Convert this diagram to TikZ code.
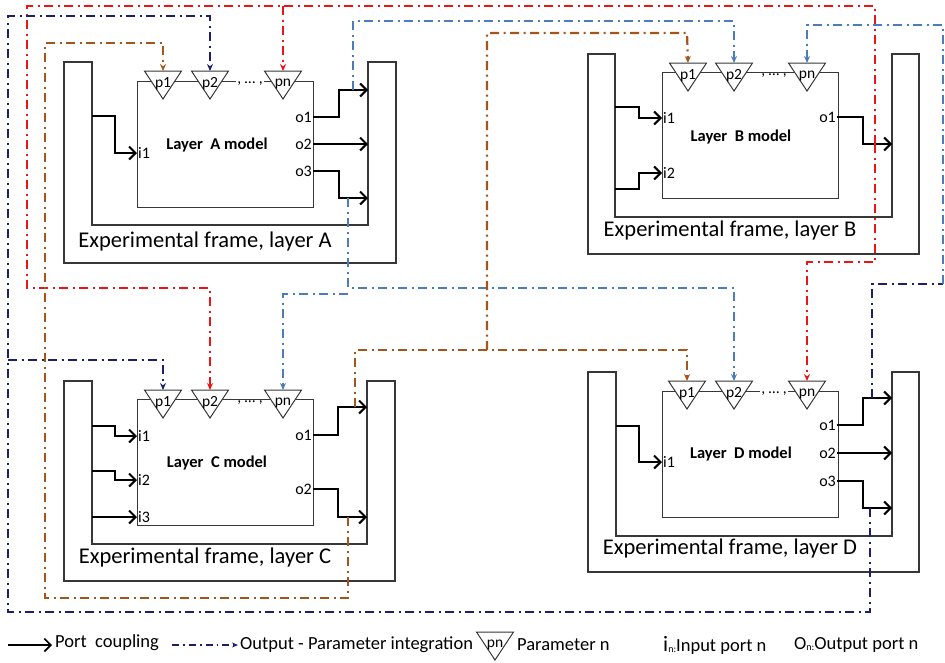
\documentclass[tikz,border=0pt]{standalone}
\usepackage{fontspec}
\setmainfont{Carlito}
\usetikzlibrary{arrows.meta,calc}
\definecolor{redc}{RGB}{238,20,20}
\definecolor{navyc}{RGB}{30,30,110}
\definecolor{lbluec}{RGB}{75,125,190}
\definecolor{brownc}{RGB}{165,85,25}
\definecolor{framec}{RGB}{55,55,55}
\newcommand\fs[1]{\fontsize{#1}{#1}\selectfont}
\begin{document}
\begin{tikzpicture}[x=1pt,y=-1pt,
 frame/.style={draw=framec,line width=1.1pt},
 modelbox/.style={draw=framec,line width=1.1pt,fill=white,minimum width=176pt,minimum height=126pt,anchor=north west,inner sep=0},
 tri/.style={draw=framec,line width=1pt,fill=white},
 plabel/.style={font={\fs{15.5}},inner sep=0},
 portl/.style={font={\fs{16}},inner sep=1pt},
 mlabel/.style={font={\fs{16.5}\bfseries}},
 flabel/.style={font={\fs{22.5}}},
 legend/.style={font={\fs{18.5}},inner sep=1pt},
 port/.style={draw=black,line width=2pt,-{Straight Barb[length=6.5pt,width=13pt]}},
 jog/.style={to path={-| ($(\tikztostart)!#1!(\tikztotarget)$) |- (\tikztotarget)}},
 dd/.style={line width=2.2pt,dash pattern=on 9pt off 4.5pt on 2pt off 4.5pt},
 tip/.style={-{Stealth[length=7pt,width=6pt]}},
 pics/ptri/.style={code={
   \filldraw[tri] (-18.5,0) -- (18.5,0) -- (0,28) -- cycle;
   \node[plabel] at (0,13) {#1};
   \coordinate (-top) at (0,0);}},
]
\useasboundingbox (0,0) rectangle (945,662);

% ---------- Layer A ----------
\begin{scope}[shift={(64,62)}]
 \draw[frame] (0,0) -- (0,201) -- (332,201) -- (332,0) -- (304,0) -- (304,163) -- (28,163) -- (28,0) -- cycle;
 \node[flabel] (A-fl) at (141,179) {Experimental frame, layer A};
 \node[modelbox] (A) at (73,19) {};
 \node[mlabel] (A-lab) at (153,83) {Layer\ \ A model};
 \pic (A-p1) at (99,9) {ptri=p1};
 \pic (A-p2) at (146,9) {ptri=p2};
 \pic (A-pn) at (219,9) {ptri=pn};
 \node[plabel,fill=white,inner sep=1pt] (A-dots) at (186,22) {, … ,};
 \coordinate (A-i1s) at (28,54);
 \node[portl,anchor=west] (A-i1) at (73,91) {i1};
 \node[portl,anchor=east] (A-o1) at (249,55) {o1};
 \node[portl,anchor=east] (A-o2) at (249,82) {o2};
 \node[portl,anchor=east] (A-o3) at (249,109) {o3};
 \coordinate (A-o1e) at (304,28);
 \coordinate (A-o2e) at (304,82);
 \coordinate (A-o3e) at (304,136);
\end{scope}

% ---------- Layer B ----------
\begin{scope}[shift={(588,54)}]
 \draw[frame] (0,0) -- (0,200) -- (331,200) -- (331,0) -- (304,0) -- (304,163) -- (27,163) -- (27,0) -- cycle;
 \node[flabel] (B-fl) at (142,176) {Experimental frame, layer B};
 \node[modelbox] (B) at (74,18) {};
 \node[mlabel] (B-lab) at (153,83) {Layer\ \ B model};
 \pic (B-p1) at (100,9) {ptri=p1};
 \pic (B-p2) at (146,9) {ptri=p2};
 \pic (B-pn) at (219,9) {ptri=pn};
 \node[plabel,fill=white,inner sep=1pt] (B-dots) at (186,22) {, … ,};
 \coordinate (B-i1s) at (27,53);
 \coordinate (B-i2s) at (27,135);
 \node[portl,anchor=west] (B-i1) at (74,64) {i1};
 \node[portl,anchor=west] (B-i2) at (74,119) {i2};
 \node[portl,anchor=east] (B-o1) at (249,63) {o1};
 \coordinate (B-o1e) at (304,90);
\end{scope}

% ---------- Layer C ----------
\begin{scope}[shift={(64,381)}]
 \draw[frame] (0,0) -- (0,200) -- (331,200) -- (331,0) -- (303,0) -- (303,163) -- (28,163) -- (28,0) -- cycle;
 \node[flabel] (C-fl) at (141,176) {Experimental frame, layer C};
 \node[modelbox] (C) at (73,18) {};
 \node[mlabel] (C-lab) at (153,82) {Layer\ \ C model};
 \pic (C-p1) at (99,9) {ptri=p1};
 \pic (C-p2) at (146,9) {ptri=p2};
 \pic (C-pn) at (219,9) {ptri=pn};
 \node[plabel,fill=white,inner sep=1pt] (C-dots) at (186,22) {, … ,};
 \coordinate (C-i1s) at (28,45);
 \coordinate (C-i2s) at (28,90);
 \coordinate (C-i3s) at (28,136);
 \node[portl,anchor=west] (C-i1) at (73,55) {i1};
 \node[portl,anchor=west] (C-i2) at (73,99) {i2};
 \node[portl,anchor=west] (C-i3) at (73,136) {i3};
 \node[portl,anchor=east] (C-o1) at (249,54) {o1};
 \node[portl,anchor=east] (C-o2) at (249,108) {o2};
 \coordinate (C-o1e) at (303,26);
 \coordinate (C-o2e) at (303,136);
\end{scope}

% ---------- Layer D ----------
\begin{scope}[shift={(588,372)}]
 \draw[frame] (0,0) -- (0,200) -- (331,200) -- (331,0) -- (304,0) -- (304,164) -- (28,164) -- (28,0) -- cycle;
 \node[flabel] (D-fl) at (142,176) {Experimental frame, layer D};
 \node[modelbox] (D) at (74,19) {};
 \node[mlabel] (D-lab) at (153,82) {Layer\ \ D model};
 \pic (D-p1) at (99,9) {ptri=p1};
 \pic (D-p2) at (146,9) {ptri=p2};
 \pic (D-pn) at (219,9) {ptri=pn};
 \node[plabel,fill=white,inner sep=1pt] (D-dots) at (186,22) {, … ,};
 \coordinate (D-i1s) at (28,54);
 \node[portl,anchor=west] (D-i1) at (74,90) {i1};
 \node[portl,anchor=east] (D-o1) at (249,53) {o1};
 \node[portl,anchor=east] (D-o2) at (249,81) {o2};
 \node[portl,anchor=east] (D-o3) at (249,109) {o3};
 \coordinate (D-o1e) at (304,26);
 \coordinate (D-o2e) at (304,81);
 \coordinate (D-o3e) at (304,136);
\end{scope}

% ---------- port couplings ----------
\draw[port] (A-i1s) to[jog=0.5] (A-i1.west);
\draw[port] (A-o1.east) to[jog=0.47] (A-o1e);
\draw[port] (A-o2.east) -- (A-o2e);
\draw[port] (A-o3.east) to[jog=0.47] (A-o3e);
\draw[port] (B-i1s) to[jog=0.5] (B-i1.west);
\draw[port] (B-i2s) to[jog=0.5] (B-i2.west);
\draw[port] (B-o1.east) to[jog=0.47] (B-o1e);
\draw[port] (C-i1s) to[jog=0.5] (C-i1.west);
\draw[port] (C-i2s) to[jog=0.5] (C-i2.west);
\draw[port] (C-i3s) -- (C-i3.west);
\draw[port] (C-o1.east) to[jog=0.47] (C-o1e);
\draw[port] (C-o2.east) to[jog=0.47] (C-o2e);
\draw[port] (D-i1s) to[jog=0.5] (D-i1.west);
\draw[port] (D-o1.east) to[jog=0.47] (D-o1e);
\draw[port] (D-o2.east) -- (D-o2e);
\draw[port] (D-o3.east) to[jog=0.47] (D-o3e);

% ---------- taps and junctions ----------
\coordinate (B-o1tap) at (875,144);
\coordinate (D-o1tap) at (872,398);
\coordinate (D-o3tap) at (870,508);
\coordinate (A-o1tap) at (353,90);
\coordinate (A-o3tap) at (348,198);
\coordinate (C-o1tap) at (355,407);
\coordinate (C-o2tap) at (348,517);
\coordinate (Rj) at (283,6);
\coordinate (Nj) at (8,360);
\coordinate (Lj) at (348,294);
\coordinate (Brj) at (487,350);
\coordinate (NLj) at (943,284);

% ---------- output-parameter integration ----------
\draw[dd,redc,tip] (B-o1tap) -- (875,6) -- (27,6) -- (27,288) -- (210,288) -- (C-p2-top);
\draw[dd,redc,tip] (Rj) -- (A-pn-top);
\draw[dd,redc,tip] (B-o1tap) -- (875,262) -- (807,262) -- (D-pn-top);

\draw[dd,navyc,tip] (D-o3tap) -- (870,612) -- (8,612) -- (8,16) -- (210,16) -- (A-p2-top);
\draw[dd,navyc,tip] (Nj) -- (163,360) -- (C-p1-top);
\draw[dd,navyc] (D-o1tap) -- (872,284) -- (NLj);
\draw[dd,lbluec,tip] (NLj) -- (943,25) -- (807,25) -- (B-pn-top);

\draw[dd,lbluec,tip] (A-o1tap) -- (353,21) -- (734,21) -- (B-p2-top);
\draw[dd,lbluec,tip] (A-o3tap) -- (348,288) -- (734,288) -- (D-p2-top);
\draw[dd,lbluec,tip] (Lj) -- (283,294) -- (C-pn-top);

\draw[dd,brownc,tip] (C-o2tap) -- (348,598) -- (45,598) -- (45,43) -- (163,43) -- (A-p1-top);
\draw[dd,brownc,tip] (C-o1tap) -- (355,350) -- (687,350) -- (D-p1-top);
\draw[dd,brownc,tip] (Brj) -- (487,33) -- (687,33) -- (B-p1-top);

% ---------- legend ----------
\coordinate (lg1a) at (8,645);
\coordinate (lg1b) at (52,645);
\draw[port,line width=1.6pt] (lg1a) -- (lg1b);
\node[legend,anchor=west] (lgt1) at (54,643) {Port\ \ coupling};
\coordinate (lg2a) at (172,645);
\coordinate (lg2b) at (238,645);
\draw[navyc,line width=1.6pt,dash pattern=on 7pt off 4pt on 1.8pt off 4pt,-{Stealth[length=6pt,width=5pt]}] (lg2a) -- (lg2b);
\node[legend,anchor=west] (lgt2) at (239,645) {Output - Parameter integration};
\pic (lgp) at (495,632) {ptri=pn};
\node[legend,anchor=west] (lgt3) at (516,645) {Parameter n};
\node[legend,anchor=west] (lgt4) at (662,645) {{\fs{22}i}\raisebox{-1pt}{\fs{10}n:}Input port n};
\node[legend,anchor=west] (lgt5) at (793,645) {{\fs{18.5}O}\raisebox{-1pt}{\fs{10}n:}Output port n};
\end{tikzpicture}
\end{document}
